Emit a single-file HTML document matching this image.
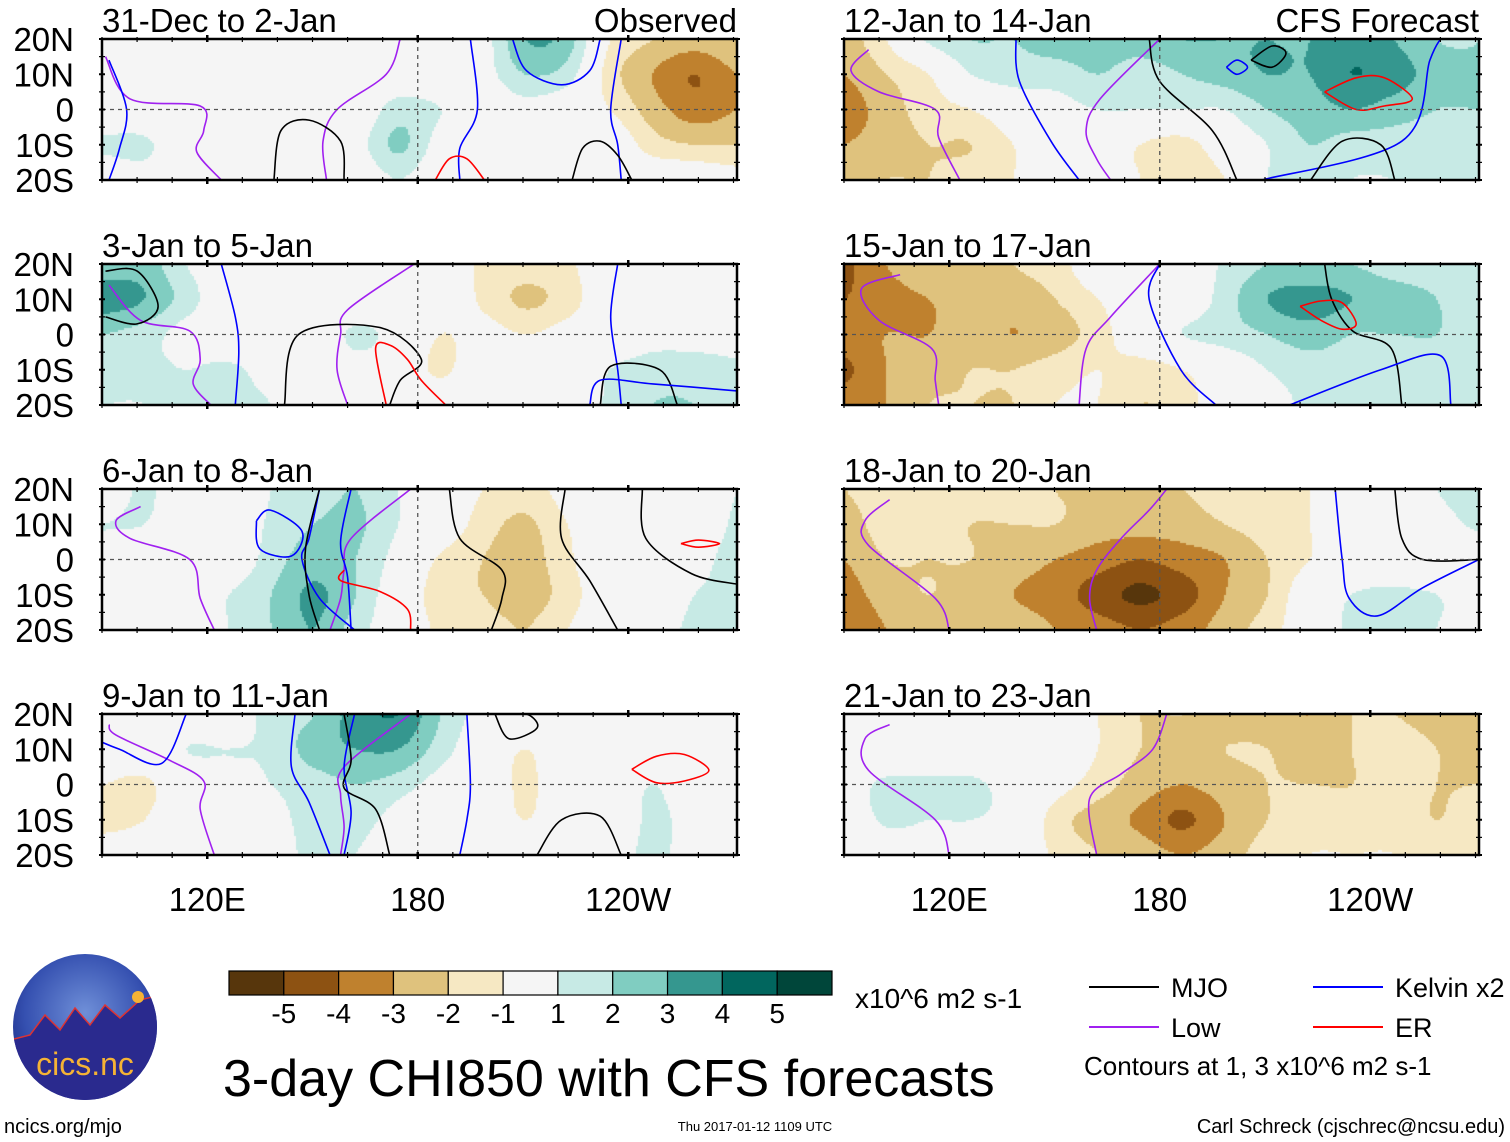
<!DOCTYPE html>
<html><head><meta charset="utf-8">
<style>
html,body{margin:0;padding:0;background:#fff;}
#root{position:relative;width:1510px;height:1142px;overflow:hidden;font-family:"Liberation Sans",Arial,sans-serif;}
canvas{position:absolute;}
svg{position:absolute;left:0;top:0;}
</style></head>
<body>
<div id="root">
<svg id="svg" width="1510" height="1142"></svg>
</div>
<script>
// ---- data ----
const colorBins = ["#57360c","#8d5212","#bf812e","#dfc27d","#f6e8c3","#f5f5f5","#c7eae5","#80cdc1","#35978f","#01665e","#00463a"];
const binLabels = ["-5","-4","-3","-2","-1","1","2","3","4","5"];
const panelTitles = ["31-Dec to 2-Jan","3-Jan to 5-Jan","6-Jan to 8-Jan","9-Jan to 11-Jan","12-Jan to 14-Jan","15-Jan to 17-Jan","18-Jan to 20-Jan","21-Jan to 23-Jan"];
const latRows = [20,10,0,-10,-20];
const latTickLabels = ["20N","10N","0","10S","20S"];
const lonTickValues = [120,180,240];
const lonTickLabels = ["120E","180","120W"];
// each field: 16 longitude columns (90E..271E), each column = values at 20N,10N,0,10S,20S
const field1 = [[0,0,0,1.2,0],[0,0,0,1.2,0.5],[0,0,0,0,0],[0,0,0,0,0],[-0.5,0,0,0,0],[0,0,0,0,0],[0,0,0,0.5,0],[0,0,1.5,2.2,1],[0,0,1,0.5,0],[0.5,0.5,0,0,0],[3,2,0.5,0,0],[2.5,1.5,0,0,0],[-1,-1.5,-1,0,0],[-2,-3,-2.5,-1.5,0],[-2.5,-4,-3.5,-2,0],[-2,-3,-3,-2,-0.5]];
const field2 = [[2.5,3.5,2,1.2,1],[2.5,3,1.5,1.2,1],[1,1.5,0.5,1,1.2],[0,0,0,1.2,1.2],[0,0,0,0.5,1],[0,0,0,0,0],[0,0,1.2,0.5,0],[0,0,0.5,0,0],[0,0,-1,-1.2,0],[-1.2,-1.2,-0.5,0,0],[-1.5,-2.2,-1,0,0],[-1.2,-1.5,-0.5,0,0],[0,0,0,1,1.2],[0,0,0.5,1.5,2],[0,0,0.5,1.5,2],[0,0,0.5,1.2,1.5]];
const field3 = [[0,1,0.5,0,-1],[1.2,1,0,0,0],[0,0,0,0,0],[0,0,0,1,1],[1,1.2,1.5,2,2],[1.5,2,2.5,3.2,3],[2,2.2,2,2,1.5],[1,1,0.5,0,0],[0,0,-1.2,-1.5,-1.2],[-1,-1.5,-2,-2,-1.5],[-1.5,-2.2,-2.5,-2.5,-2],[-0.5,-1,-1.2,-1.5,-1],[0,0,0,0,0],[0,0,0,0,0.5],[0,0,0.5,1,1.2],[1,1.2,1.5,1.2,1.2]];
const field4 = [[0,0,-1,-1.5,0],[0,0,-1.2,-1,0],[0,1,0,0,0],[0,1,0.5,0,0],[1.5,1.2,1,0.5,0],[2,2.5,1.5,1.5,1.5],[3.5,3,2,1.5,1],[4,3,1.5,0.5,0],[2,1.5,0.5,0,0],[0.5,0,0,0,0],[0,-1,-1.2,-1,0],[0,0,0,0,0],[0,0,0,0,0.5],[0,0,1,1.2,1.2],[0,0,0,0.5,0.5],[-1,0,0,0,0]];
const field5 = [[-2.5,-3,-3.5,-3,-2.5],[-1,-2,-2.5,-2.5,-2],[1.2,-1,-1.5,-2,-2],[2,1,-1,-2,-1.5],[2,1.5,0,-1,-1],[2.5,1.5,0.5,0,0],[2.5,2,1,0,0],[2.5,1.5,1,-1,-1],[3,2,1,-1.5,-2],[3,2.5,1,0,-1],[3,3,2,1,1],[3,3,2.5,2,1.5],[3.5,4,3,1.5,1],[3,3.5,2.5,1.5,1],[2,2.5,2,1.5,1.2],[2,2,2,1.5,1.5]];
const field6 = [[-4.2,-4,-3.5,-4.2,-3.5],[-3,-3.5,-3,-3,-3],[-2,-3,-3,-2.5,-2],[-2.5,-2.5,-2.5,-2,-2],[-2,-2.5,-3,-2,-2],[-1.5,-2,-2.5,-1.5,-1],[0,-1,-1.5,-1,-1],[0,0,0,-1.5,-2],[0,0,1,-1,-1.5],[1.2,1.5,1.5,0,0],[2,3,2,1,0.5],[2,3.5,2.5,1.5,1.2],[2,3,2,1.5,1.2],[1.5,2.5,2,1.5,1.2],[1.5,2,2,1.5,1.2],[1.2,1.5,1.5,1.2,1.2]];
const field7 = [[-2,-2.5,-3,-3.5,-4],[-1.5,-1.5,-2,-2.5,-3],[-2,-1.5,-2,-2,-2.5],[-1.5,-2,-2,-2.5,-2.5],[-1.5,-2,-2.5,-3,-2.5],[-2,-2,-3,-3.5,-3],[-2,-2.5,-3.5,-4.5,-3.5],[-2,-2.5,-4,-5.2,-4],[-2,-2.5,-3.5,-4.5,-3.5],[-1.5,-2,-3,-3,-2.5],[-1.5,-1.5,-2,-2,-1.5],[-1,-1,-1,0,0],[0,0,0,1,1.2],[0,0,0,1.2,1.2],[1,0.5,0,1,1],[1.5,1.2,0,0.5,0.5]];
const field8 = [[0,0,0.5,0,-1],[0,0,1.2,1.2,0],[0,0,1.2,1,0],[0,0,1.2,1,0],[0,0,0.5,0.5,0],[0,0,-0.5,-1.5,-1.2],[-1,-1,-1.5,-2.5,-2],[-2,-2,-2.5,-3.2,-2.5],[-2,-2.5,-3,-4.2,-3],[-2.5,-2,-2.5,-3,-2.5],[-2.5,-2,-2,-2,-1.5],[-3,-2.5,-2,-1.5,-1],[-2,-2,-2,-1.5,-1],[-2,-1.5,-1.5,-1.5,-1],[-2.5,-2,-2,-2,-1.5],[-3,-2.5,-2,-1.5,-1.5]];
const fields = [field1,field2,field3,field4,field5,field6,field7,field8];
// contours: [type, lons, lats]
const contours1 = [["low",[175,171,157,153,154],[20,10,0,-9,-20]],["low",[91,98,118,119,117,124],[15,3,1,-6,-12,-20]],["kelvin",[195,197,192,192],[20,0,-11,-20]],["kelvin",[238,235,237,238],[20,0,-10,-20]],["kelvin",[207,211,221,229,232],[20,11,7,11,20]],["kelvin",[92,97,95,92],[14,0,-11,-20]],["mjo",[139,141,149,158,159],[-20,-6,-3,-9,-20]],["mjo",[224,227,232,237,241],[-20,-11,-9,-13,-20]],["er",[185,189,194,199],[-20,-14,-14,-20]]];
const contours2 = [["low",[179,160,158,157,160],[20,7,0,-10,-20]],["low",[92,101,115,118,116,121],[14,4,1,-7,-14,-20]],["kelvin",[124,128,129,128],[20,5,-5,-20]],["kelvin",[237,235,237,238],[20,5,-10,-20]],["mjo",[91,100,106,100,91],[18,18,8,3,5]],["mjo",[142,146,169,181,175,172],[-20,0,2,-7,-13,-20]],["er",[171,168,172,177,181,188],[-20,-4,-3,-7,-13,-20]],["mjo",[232,235,249,254],[-20,-9,-10,-20]],["kelvin",[229,232,247,271],[-20,-13,-14,-16]]];
const contours3 = [["low",[178,161,159,158,155],[20,6,-3,-11,-20]],["low",[101,94,98,115,118,122],[15,11,6,0,-11,-20]],["kelvin",[152,149,147,152,162],[20,6,0,-11,-20]],["kelvin",[161,158,160,161],[20,5,-5,-20]],["kelvin",[134,138,147,144,135,134],[11,14,8,1,3,11]],["mjo",[152,148,149,152],[20,3,-10,-20]],["mjo",[189,192,204,204,201],[20,6,-3,-11,-20]],["mjo",[222,221,229,237],[20,6,-6,-20]],["mjo",[244,245,258,271],[20,6,-4,-7]],["er",[159,158,169,177,178],[-3,-6,-9,-14,-20]],["er",[255,260,266,260,255],[4.5,5.5,4.5,3.5,4.5]]];
const contours4 = [["low",[178,159,158,159,158],[20,5,-3,-12,-20]],["low",[92,94,109,119,118,122],[17,14,7,1,-7,-20]],["kelvin",[145,144,149,155],[20,5,-5,-20]],["kelvin",[162,159,161,159],[20,5,-8,-20]],["kelvin",[194,195,194,192],[20,0,-10,-20]],["kelvin",[90,95,107,114],[12,10,6,20]],["mjo",[159,161,159,168,172],[20,7,-1,-7,-20]],["mjo",[202,206,214,211,202],[20,13,16,20,20]],["mjo",[214,221,232,238],[-20,-10,-9,-20]],["er",[241,248,256,263,256,248,241],[4.3,8,8.5,4,1,0.5,4.3]]];
const contours5 = [["low",[180,163,159,162,166],[20,3,-6,-14,-20]],["low",[97,92,100,116,117,123],[17,11,5,0,-8,-20]],["kelvin",[139,140,149,157],[20,8,-9,-20]],["kelvin",[260,257,249,209],[20,14,-9,-20]],["mjo",[177,180,195,202],[20,8,-6,-20]],["mjo",[206,212,216,212,206],[14,18,16,12,14]],["mjo",[223,232,243,247],[-20,-9,-10,-20]],["er",[227,236,244,252,244,236,227],[5,9,9,3,1,0,5]],["kelvin",[199,202,205,202,199],[12,14,12,10,12]]];
const contours6 = [["low",[180,166,159,157],[20,5,-4,-20]],["low",[106,95,100,115,116,117],[17,13,4,-4,-13,-20]],["kelvin",[180,177,186,196],[20,10,-10,-20]],["mjo",[227,229,235,246,249],[20,10,1,-4,-20]],["kelvin",[217,243,260,263],[-20,-10,-6,-20]],["er",[220,226,232,236,232,226,220],[8,9.5,9,3,1.5,4,8]]];
const contours7 = [["low",[182,177,169,162,160,162],[20,14,6,-3,-11,-20]],["low",[103,96,97,116,120],[17,11,4,-11,-20]],["kelvin",[230,232,234,242,255,271],[20,0,-11,-16,-8,0]],["mjo",[247,249,255,271],[20,6,0,0]]];
const contours8 = [["low",[182,178,169,160,162],[20,10,3,-4,-20]],["low",[103,96,97,116,120],[17,13,4,-10,-20]]];
const contourSets = [contours1,contours2,contours3,contours4,contours5,contours6,contours7,contours8];
const contourColors = {mjo:"#000000",kelvin:"#0000ff",low:"#a020f0",er:"#ff0000"};

// ---- layout ----
const NS="http://www.w3.org/2000/svg";
const svg=document.getElementById('svg');
const root=document.getElementById('root');
const PW=635, PH=141, LON0=90, LON1=271;
const panelX=[102,102,102,102,844,844,844,844];
const panelY=[39,264,489,714,39,264,489,714];
function xScale(p,lon){return panelX[p]+(lon-LON0)/(LON1-LON0)*PW;}
function yScale(p,lat){return panelY[p]+(20-lat)/40*PH;}
function binColor(v){
  let i;
  if(v<-5)i=0;else if(v<-4)i=1;else if(v<-3)i=2;else if(v<-2)i=3;else if(v<-1)i=4;
  else if(v<1)i=5;else if(v<2)i=6;else if(v<3)i=7;else if(v<4)i=8;else if(v<5)i=9;else i=10;
  return colorBins[i];
}
function el(tag,attrs,parent){const e=document.createElementNS(NS,tag);for(const k in attrs)e.setAttribute(k,attrs[k]);(parent||svg).appendChild(e);return e;}
function txt(s,attrs,parent){const e=el('text',attrs,parent);e.textContent=s;return e;}
function cr(p0,p1,p2,p3,t){return 0.5*((2*p1)+(-p0+p2)*t+(2*p0-5*p1+4*p2-p3)*t*t+(-p0+3*p1-3*p2+p3)*t*t*t);}
function sample(f,gx,gy){
  const nc=f.length,nr=f[0].length;
  const i=Math.min(nc-2,Math.floor(gx)),j=Math.min(nr-2,Math.floor(gy));
  const tx=gx-i,ty=gy-j;
  const ci=k=>Math.max(0,Math.min(nc-1,k)),cj=k=>Math.max(0,Math.min(nr-1,k));
  const rows=[];
  for(let dj=-1;dj<=2;dj++){
    const jj=cj(j+dj);
    rows.push(cr(f[ci(i-1)][jj],f[ci(i)][jj],f[ci(i+1)][jj],f[ci(i+2)][jj],tx));
  }
  return cr(rows[0],rows[1],rows[2],rows[3],ty);
}

fields.forEach((f,p)=>{
  const cv=document.createElement('canvas');
  
  
  cv.width=PW;cv.height=PH;
  cv.style.left=panelX[p]+'px';cv.style.top=panelY[p]+'px';
  root.insertBefore(cv,svg);
  const ctx=cv.getContext('2d');
  const nc=f.length, nr=latRows.length, step=2;
  for(let px=0;px<PW;px+=step){
    const gx=(px+1)/PW*(nc-1);
    for(let py=0;py<PH;py+=step){
      const gy=(py+1)/PH*(nr-1);
      ctx.fillStyle=binColor(sample(f,gx,gy));ctx.fillRect(px,py,step,step);
    }
  }
});

function smoothPath(pts){
  if(pts.length<3)return 'M'+pts.map(q=>q.join(',')).join(' L');
  let d='M'+pts[0][0].toFixed(1)+','+pts[0][1].toFixed(1);
  for(let i=0;i<pts.length-1;i++){
    const p0=pts[Math.max(0,i-1)],p1=pts[i],p2=pts[i+1],p3=pts[Math.min(pts.length-1,i+2)];
    const c1=[p1[0]+(p2[0]-p0[0])/6,p1[1]+(p2[1]-p0[1])/6];
    const c2=[p2[0]-(p3[0]-p1[0])/6,p2[1]-(p3[1]-p1[1])/6];
    d+=' C'+c1.map(v=>v.toFixed(1)).join(',')+' '+c2.map(v=>v.toFixed(1)).join(',')+' '+p2.map(v=>v.toFixed(1)).join(',');
  }
  return d;
}

for(let p=0;p<8;p++){
  const g=el('g',{});
  
  
  const x0=panelX[p],y0=panelY[p];
  const cp=el('clipPath',{id:'clip'+p},g);
  el('rect',{x:x0,y:y0,width:PW,height:PH},cp);
  contourSets[p].forEach(c=>{
    const pts=c[1].map((lon,i)=>[xScale(p,lon),yScale(p,c[2][Math.min(i,c[2].length-1)])]);
    const pl=el('path',{d:smoothPath(pts),fill:'none',stroke:contourColors[c[0]],'stroke-width':1.6,'stroke-linejoin':'round','clip-path':'url(#clip'+p+')'},g);
    
    
  });
  const eq=el('line',{x1:x0,x2:x0+PW,y1:yScale(p,0),y2:yScale(p,0),stroke:'#555','stroke-width':1.3,'stroke-dasharray':'4,4'},g);
  
  
  const dl=el('line',{x1:xScale(p,180),x2:xScale(p,180),y1:y0,y2:y0+PH,stroke:'#555','stroke-width':1.3,'stroke-dasharray':'4,4'},g);
  
  
  const fr=el('rect',{x:x0,y:y0,width:PW,height:PH,fill:'none',stroke:'#000','stroke-width':2.5},g);
  
  
  for(let lon=90;lon<=270;lon+=10){
    const x=xScale(p,lon);const major=lonTickValues.includes(lon);
    el('line',{x1:x,x2:x,y1:y0-(major?4:2),y2:y0+3,stroke:'#000','stroke-width':major?2.5:1.2},g);
    el('line',{x1:x,x2:x,y1:y0+PH-3,y2:y0+PH+(major?4:3),stroke:'#000','stroke-width':major?2.5:1.2},g);
  }
  for(let lat=-20;lat<=20;lat+=5){
    const y=yScale(p,lat);
    el('line',{x1:x0-3,x2:x0+3,y1:y,y2:y,stroke:'#000','stroke-width':lat%10==0?2:1.2},g);
    el('line',{x1:x0+PW-3,x2:x0+PW+3,y1:y,y2:y,stroke:'#000','stroke-width':lat%10==0?2:1.2},g);
  }
  const t=txt(panelTitles[p],{x:x0,y:y0-7,'font-size':33,fill:'#000'},g);
  
  
  if(p<4){
    latRows.forEach((lat,i)=>{
      const l=txt(latTickLabels[i],{x:74,y:yScale(p,lat)+12,'font-size':33,'text-anchor':'end'},g);
      
      
    });
  }
}
const obs=txt("Observed",{x:737,y:32,'font-size':33,'text-anchor':'end'});


const cfs=txt("CFS Forecast",{x:1479,y:32,'font-size':33,'text-anchor':'end'});


[0,4].forEach(p=>{
  lonTickValues.forEach((lon,i)=>{
    const l=txt(lonTickLabels[i],{x:xScale(p,lon),y:911,'font-size':33,'text-anchor':'middle'});
    
    
  });
});
const cb=el('g',{});


const cbX=229,cbW=603,cbY=971,cbH=24,bw=cbW/colorBins.length;
colorBins.forEach((c,i)=>{
  const r=el('rect',{x:cbX+i*bw,y:cbY,width:bw,height:cbH,fill:c,stroke:'#000','stroke-width':1.2},cb);
  
  
});
binLabels.forEach((s,i)=>{
  const l=txt(s,{x:cbX+(i+1)*bw,y:1023,'font-size':28,'text-anchor':'middle'},cb);
  
  
});
const units=txt("x10^6 m2 s-1",{x:855,y:1008,'font-size':28});


const lg=el('g',{});


[["mjo","MJO",1089,987],["kelvin","Kelvin x2",1313,987],["low","Low",1089,1027],["er","ER",1313,1027]].forEach(d=>{
  const ln=el('line',{x1:d[2],x2:d[2]+70,y1:d[3],y2:d[3],stroke:contourColors[d[0]],'stroke-width':2},lg);
  
  
  const t=txt(d[1],{x:d[2]+82,y:d[3]+10,'font-size':27},lg);
  
  
});
const ct=txt("Contours at 1, 3 x10^6 m2 s-1",{x:1084,y:1075,'font-size':26},lg);


const title=txt("3-day CHI850 with CFS forecasts",{x:223,y:1096,'font-size':52});


const u1=txt("ncics.org/mjo",{x:4,y:1133,'font-size':20});


const ts=txt("Thu 2017-01-12 1109 UTC",{x:755,y:1131,'font-size':13,'text-anchor':'middle'});


const au=txt("Carl Schreck (cjschrec@ncsu.edu)",{x:1505,y:1133,'font-size':20,'text-anchor':'end'});


const logo=el('g',{});


const defs=el('defs',{});
defs.innerHTML='<radialGradient id="lg" cx="50%" cy="40%" r="60%"><stop offset="0" stop-color="#6f8fd8"/><stop offset="0.7" stop-color="#3550b0"/><stop offset="1" stop-color="#1e2f8a"/></radialGradient><clipPath id="lc"><ellipse cx="85" cy="1027" rx="72" ry="73"/></clipPath>';
el('ellipse',{cx:85,cy:1027,rx:72,ry:73,fill:'url(#lg)'},logo);
el('polygon',{points:'10,1040 30,1035 45,1015 60,1030 75,1008 90,1025 105,1005 120,1018 140,1000 160,995 160,1110 10,1110',fill:'#2a2a8e','clip-path':'url(#lc)',stroke:'#d33','stroke-width':1.5},logo);
el('circle',{cx:138,cy:997,r:6,fill:'#f5b335'},logo);
const lt=txt("cics.nc",{x:85,y:1075,'font-size':32,'text-anchor':'middle',fill:'#f5b335'},logo);


</script>
</body></html>
